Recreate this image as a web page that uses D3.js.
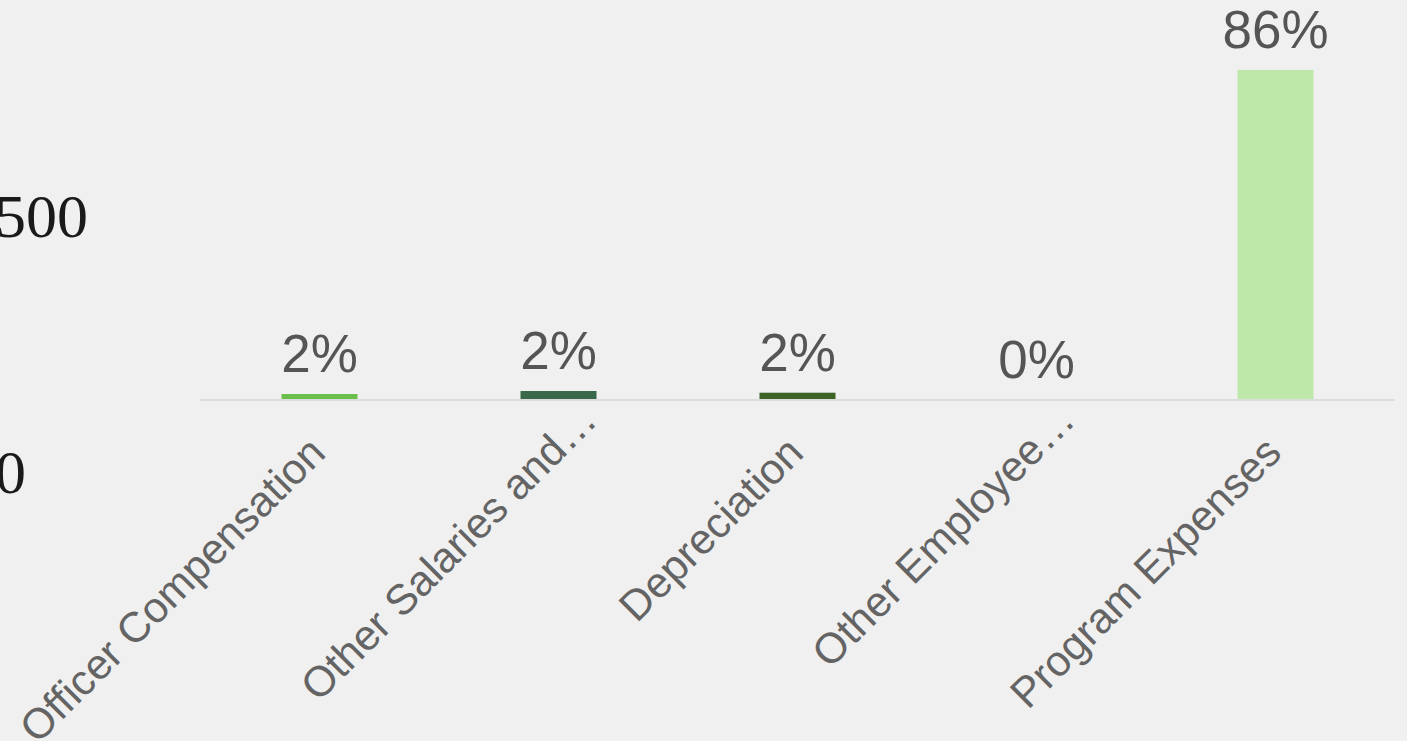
<!DOCTYPE html>
<html>
<head>
<meta charset="utf-8">
<script src="https://cdn.jsdelivr.net/npm/d3@7"></script>
<style>
    html, body { margin: 0; padding: 0; background: #f0f0f0; overflow: hidden; }
    svg { display: block; }
</style>
</head>
<body>
<svg id="chart" width="1407" height="741"></svg>
<script>
// displayed category names (already truncated in the source)
const categories = [
    "Officer Compensation",
    "Other Salaries and…",
    "Depreciation",
    "Other Employee…",
    "Program Expenses",
];
// amounts
const amounts = [11.7, 17.6, 14.3, 0, 646];
const pctLabels = ["2%", "2%", "2%", "0%", "86%"];
const barColors = ["#6abf4b", "#38694a", "#3d6426", "#bdbdbd", "#bde8a9"];
const yTicks = [0, 500];

const svg = d3.select("#chart");

const x = d3.scaleBand()
    .domain(categories)
    .range([200, 1395])
    .paddingInner(0.682)
    .paddingOuter(0.341);

const y = d3.scaleLinear()
    .domain([0, 500])
    .range([400, 144.5]);

// stray y axis, drawn lower than the bars in the original
const yAxis = d3.axisLeft(y).tickValues(yTicks).tickSize(0).tickPadding(0);
const yg = svg.append("g")
    .attr("transform", "translate(0,72.5)")
    .call(yAxis);
yg.select(".domain").remove();
yg.selectAll("text")
    .attr("text-anchor", "start")
    .attr("x", -5)
    .attr("fill", "#1a1a1a")
    .style("font-family", "'Liberation Serif', serif")
    .style("font-size", "62px");

// bars
svg.append("g")
    .selectAll("rect")
    .data(amounts)
    .join("rect")
    .attr("x", (d, i) => x(categories[i]))
    .attr("y", d => y(d))
    .attr("width", x.bandwidth())
    .attr("height", d => y(0) - y(d))
    .attr("fill", (d, i) => barColors[i]);

// baseline
svg.append("line")
    .attr("x1", x.range()[0])
    .attr("x2", x.range()[1])
    .attr("y1", y(0))
    .attr("y2", y(0))
    .attr("stroke", "#dcdcdc")
    .attr("stroke-width", 2);

// value labels
svg.append("g")
    .selectAll("text")
    .data(amounts)
    .join("text")
    .attr("x", (d, i) => x(categories[i]) + x.bandwidth() / 2)
    .attr("y", d => y(d) - 22)
    .attr("text-anchor", "middle")
    .attr("fill", "#555")
    .style("font-family", "'Liberation Sans', Arial, sans-serif")
    .style("font-size", "53px")
    .text((d, i) => pctLabels[i]);

// rotated category labels; truncated ones sit one ellipsis further out
const xAxis = d3.axisBottom(x).tickSize(0).tickPadding(0);
const xg = svg.append("g")
    .attr("transform", "translate(0,455)")
    .call(xAxis);
xg.select(".domain").remove();
xg.selectAll("text")
    .attr("y", 0)
    .attr("dy", 0)
    .attr("text-anchor", "end")
    .attr("fill", "#646464")
    .style("font-family", "'Liberation Sans', Arial, sans-serif")
    .style("font-size", "42.5px")
    .attr("transform", d => {
        let shift = d.endsWith("…") ? 46 : 0;
        let dx = 8 + shift * Math.SQRT1_2;
        let dy = -shift * Math.SQRT1_2;
        return `translate(${dx},${dy}) rotate(-45)`;
    });
</script>
</body>
</html>
